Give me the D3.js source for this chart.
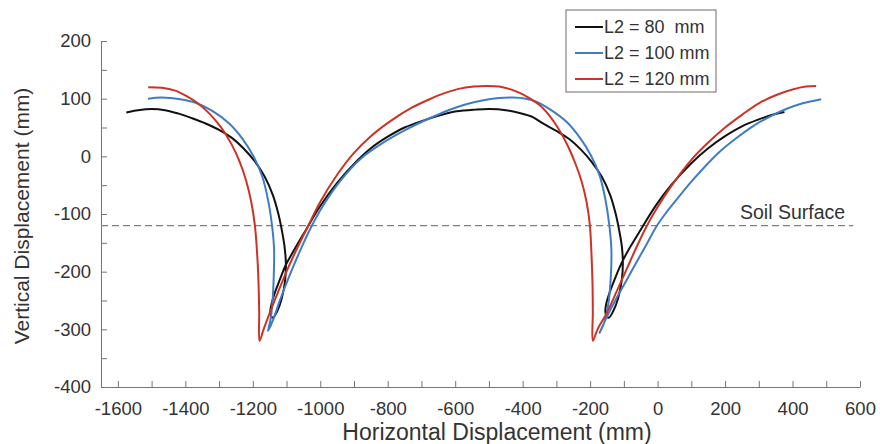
<!DOCTYPE html>
<meta charset="utf-8">
<style>
body { margin: 0; background: #fff; }
text { font-family: "Liberation Sans", Arial, sans-serif; fill: #333; }
.axis path, .axis line { stroke: #7d7270; }
</style>
<body>
<script src="https://cdn.jsdelivr.net/npm/d3@7"></script>
<script>

var width = 880,
    height = 444;

// series, as [horizontal, vertical] in mm
var seriesNames = ["L2 = 80  mm", "L2 = 100 mm", "L2 = 120 mm"];
var seriesColors = ["#111111", "#3f7cc4", "#cc3326"];

var l2_80 = [
  [-1575, 76], [-1540, 80], [-1500, 82], [-1460, 80], [-1420, 74], [-1380, 66],
  [-1340, 57], [-1300, 46], [-1262, 32], [-1228, 14], [-1195, -8], [-1165, -35],
  [-1140, -68], [-1125, -98], [-1114, -128], [-1106, -156], [-1102, -185], [-1104, -214],
  [-1114, -246], [-1128, -269], [-1140, -280], [-1146, -277], [-1148, -268], [-1144, -255],
  [-1135, -237], [-1120, -214], [-1102, -188], [-1081, -166], [-1051, -136], [-1001, -87],
  [-950, -46], [-900, -13], [-850, 14], [-800, 34], [-750, 50], [-695, 62], [-640, 72],
  [-596, 78], [-540, 81], [-498, 82], [-450, 80], [-409, 75], [-370, 68], [-340, 57],
  [-300, 44], [-262, 30], [-228, 12], [-195, -10], [-165, -36], [-140, -68], [-125, -98],
  [-114, -128], [-106, -156], [-103, -185], [-106, -214], [-117, -246], [-132, -269],
  [-145, -280], [-152, -277], [-155, -268], [-152, -255], [-142, -236], [-127, -213],
  [-110, -189], [-88, -164], [-55, -132], [-5, -85], [40, -50], [100, -12], [150, 14],
  [200, 35], [250, 52], [300, 64], [340, 72], [376, 77]
];

var l2_100 = [
  [-1511, 100], [-1470, 102], [-1416, 99], [-1370, 93], [-1320, 79], [-1270, 57],
  [-1230, 30], [-1198, 0], [-1172, -35], [-1155, -75], [-1143, -120], [-1137, -160],
  [-1138, -210], [-1142, -255], [-1148, -285], [-1155, -303], [-1140, -284], [-1120, -250],
  [-1090, -205], [-1060, -164], [-1030, -126], [-990, -84], [-940, -42], [-880, -4],
  [-810, 25], [-740, 48], [-676, 66], [-620, 80], [-570, 90], [-520, 97], [-470, 101],
  [-429, 102], [-390, 100], [-360, 95], [-320, 82], [-270, 60], [-230, 32], [-198, 2],
  [-172, -33], [-155, -74], [-143, -120], [-137, -162], [-139, -212], [-146, -256],
  [-158, -288], [-172, -306], [-150, -278], [-122, -246], [-92, -215], [-63, -184],
  [-33, -153], [-4, -122], [25, -98], [55, -76], [100, -44], [140, -18], [184, 8],
  [230, 30], [282, 52], [330, 68], [381, 82], [430, 92], [485, 99]
];

var l2_120 = [
  [-1510, 120], [-1470, 119], [-1430, 114], [-1395, 104], [-1365, 93], [-1330, 75],
  [-1295, 51], [-1264, 22], [-1240, -8], [-1220, -42], [-1205, -78], [-1194, -119],
  [-1187, -170], [-1183, -220], [-1181, -270], [-1180, -320], [-1168, -300], [-1150, -272],
  [-1125, -235], [-1095, -193], [-1065, -155], [-1037, -122], [-1001, -80], [-950, -32],
  [-900, 6], [-850, 35], [-790, 62], [-730, 84], [-676, 99], [-630, 110], [-590, 117],
  [-545, 121], [-505, 122], [-470, 121], [-440, 117], [-409, 110], [-380, 101], [-350, 89],
  [-320, 70], [-292, 46], [-266, 18], [-244, -12], [-225, -44], [-211, -78], [-201, -118],
  [-196, -170], [-193, -220], [-192, -270], [-192, -320], [-178, -300], [-150, -271],
  [-122, -235], [-95, -200], [-66, -162], [-36, -125], [0, -88], [40, -52], [100, -6],
  [150, 24], [200, 50], [250, 72], [300, 92], [350, 106], [400, 116], [440, 121],
  [470, 122]
];

var soilLevel = -120;
var xTicks = d3.range(-1600, 601, 100);
var yTicks = d3.range(-400, 201, 50);

var x = d3.scaleLinear().domain([-1650, 600]).range([101, 860]);
var y = d3.scaleLinear().domain([-400, 200]).range([387, 41]);

var svg = d3.select("body").append("svg")
    .attr("width", width)
    .attr("height", height);

// axes, ticks inward, labels every other tick
var xAxis = d3.axisBottom(x)
    .tickValues(xTicks)
    .tickSizeInner(-6)
    .tickSizeOuter(0)
    .tickPadding(15)
    .tickFormat(function(d) { return d % 200 === 0 ? d : ""; });

var yAxis = d3.axisLeft(y)
    .tickValues(yTicks)
    .tickSizeInner(-6)
    .tickSizeOuter(0)
    .tickPadding(10)
    .tickFormat(function(d) { return d % 100 === 0 ? d : ""; });

svg.append("g")
    .attr("class", "axis")
    .attr("transform", "translate(0," + y(-400) + ")")
    .call(xAxis)
    .selectAll("text")
    .style("font-size", "18.5px");

svg.append("g")
    .attr("class", "axis")
    .attr("transform", "translate(" + x(-1650) + ",0)")
    .call(yAxis)
    .selectAll("text")
    .style("font-size", "18.5px");

svg.selectAll(".axis text").attr("fill", "#333");

svg.append("text")
    .attr("x", 497)
    .attr("y", 440)
    .attr("text-anchor", "middle")
    .style("font-size", "23px")
    .text("Horizontal Displacement (mm)");

svg.append("text")
    .attr("transform", "translate(29,216) rotate(-90)")
    .attr("text-anchor", "middle")
    .style("font-size", "21px")
    .text("Vertical Displacement (mm)");

// soil surface
svg.append("line")
    .attr("x1", x(-1650))
    .attr("x2", x(580))
    .attr("y1", y(soilLevel))
    .attr("y2", y(soilLevel))
    .attr("stroke", "#8a7c78")
    .attr("stroke-width", 1.3)
    .attr("stroke-dasharray", "7,4");

svg.append("text")
    .attr("x", 740)
    .attr("y", y(soilLevel) - 7)
    .style("font-size", "19.5px")
    .text("Soil Surface");

var line = d3.line()
    .x(function(d) { return x(d[0]); })
    .y(function(d) { return y(d[1]); })
    .curve(d3.curveCatmullRom.alpha(0.5));

var series = [l2_80, l2_100, l2_120];

svg.selectAll(".trace")
    .data(series)
  .enter().append("path")
    .attr("class", "trace")
    .attr("d", line)
    .attr("fill", "none")
    .attr("stroke", function(d, i) { return seriesColors[i]; })
    .attr("stroke-width", 2);

// legend
var legend = svg.append("g")
    .attr("transform", "translate(566,10)");

legend.append("rect")
    .attr("width", 150)
    .attr("height", 82)
    .attr("fill", "#fff")
    .attr("stroke", "#8a8080")
    .attr("stroke-width", 1.2);

var items = legend.selectAll(".item")
    .data(seriesNames)
  .enter().append("g")
    .attr("class", "item")
    .attr("transform", function(d, i) { return "translate(0," + (17 + i * 26) + ")"; });

items.append("line")
    .attr("x1", 9)
    .attr("x2", 37)
    .attr("stroke", function(d, i) { return seriesColors[i]; })
    .attr("stroke-width", 2);

items.append("text")
    .attr("x", 38)
    .attr("dy", "0.35em")
    .style("font-size", "18px")
    .style("white-space", "pre")
    .text(function(d) { return d; });

</script>
</body>
